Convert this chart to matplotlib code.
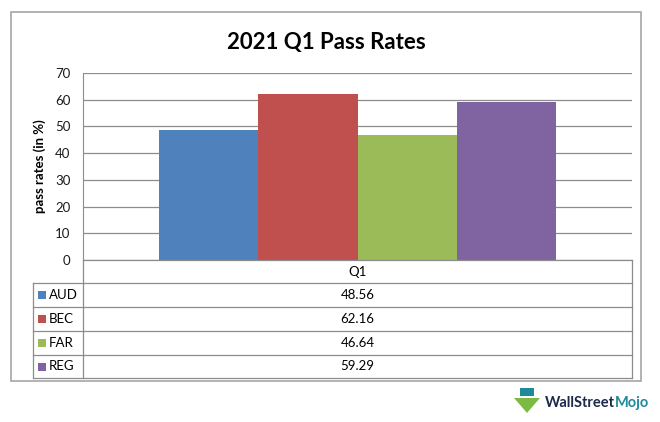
import matplotlib
matplotlib.use("Agg")
import matplotlib.pyplot as plt
from matplotlib.patches import Rectangle, Polygon
from matplotlib.lines import Line2D

# ---- data ----
title = "2021 Q1 Pass Rates"
category = "Q1"
series = ["AUD", "BEC", "FAR", "REG"]
values = [48.56, 62.16, 46.64, 59.29]
colors = ["#4F81BD", "#C0504D", "#9BBB59", "#8064A2"]
y_ticks = [0, 10, 20, 30, 40, 50, 60, 70]
y_label = "pass rates (in %)"

W, H = 660, 422
plt.rcParams['font.family'] = ['Lato', 'DejaVu Sans']
fig = plt.figure(figsize=(W / 100, H / 100), dpi=100)
fig.patch.set_facecolor("white")

def fx(px):
    return px / W

def fy(py):
    return 1 - py / H

grid_col = "#8C8C8C"

# outer chart border
fig.add_artist(Rectangle((fx(11), fy(381)), fx(641) - fx(11), fy(12) - fy(381),
                         transform=fig.transFigure, fill=False, edgecolor="#A6A6A6", lw=1.2))

# title
fig.text(fx(326), fy(43), title, ha="center", va="center", fontsize=16, fontweight="bold", color="#000000")

# plot area
L, R, T, B = 83, 632, 73, 260
ax = fig.add_axes([fx(L), fy(B), fx(R) - fx(L), fy(T) - fy(B)])
ax.set_xlim(-0.5, 0.5)
ax.set_ylim(0, 70)
bw = 0.181
n = len(series)
for i, (s, v, c) in enumerate(zip(series, values, colors)):
    xc = (i - (n - 1) / 2) * bw
    ax.bar(xc, v, width=bw, color=c, edgecolor="none", zorder=3)
ax.set_yticks(y_ticks)
ax.set_yticklabels([str(t) for t in y_ticks], fontsize=9.5, color="#1A1A1A")
ax.yaxis.grid(True, color=grid_col, lw=0.9, zorder=0)
ax.set_xticks([])
for sp in ["top", "right", "bottom"]:
    ax.spines[sp].set_visible(False)
ax.spines["left"].set_color(grid_col)
ax.tick_params(axis="y", length=0, pad=9)
ax.set_facecolor("white")
fig.text(fx(40), fy(166), y_label, rotation=90, ha="center", va="center", fontsize=9.5, fontweight="bold")

# data table
rows_y = [260, 283, 307, 331, 355, 378]
tl, tm, tr = 33, 83, 632
line_kw = dict(transform=fig.transFigure, color=grid_col, lw=0.9)
fig.add_artist(Line2D([fx(tm), fx(tr)], [fy(rows_y[0])] * 2, **line_kw))
for yy in rows_y[1:]:
    fig.add_artist(Line2D([fx(tl), fx(tr)], [fy(yy)] * 2, **line_kw))
fig.add_artist(Line2D([fx(tm), fx(tm)], [fy(rows_y[0]), fy(rows_y[-1])], **line_kw))
fig.add_artist(Line2D([fx(tr), fx(tr)], [fy(rows_y[0]), fy(rows_y[-1])], **line_kw))
fig.add_artist(Line2D([fx(tl), fx(tl)], [fy(rows_y[1]), fy(rows_y[-1])], **line_kw))

mid_x = (tm + tr) / 2
fig.text(fx(mid_x), fy((rows_y[0] + rows_y[1]) / 2), category, ha="center", va="center", fontsize=9.5)
for i, (s, v, c) in enumerate(zip(series, values, colors)):
    yc = (rows_y[i + 1] + rows_y[i + 2]) / 2
    fig.add_artist(Rectangle((fx(38), fy(yc + 4)), fx(8), fy(0) - fy(8),
                             transform=fig.transFigure, facecolor=c, edgecolor="none"))
    fig.text(fx(49), fy(yc), s, ha="left", va="center", fontsize=9.5)
    fig.text(fx(mid_x), fy(yc), f"{v:.2f}", ha="center", va="center", fontsize=9.5)

# watermark
fig.text(fx(545), fy(403), "WallStreet", ha="left", va="center", fontsize=10.5, fontweight="bold", color="#1B2A4A")
fig.text(fx(615), fy(403), "Mojo", ha="left", va="center", fontsize=10.5, fontweight="bold", color="#1E8A9A")
fig.add_artist(Polygon([(fx(514), fy(398)), (fx(540), fy(398)), (fx(533), fy(406)),
                        (fx(527), fy(413)), (fx(521), fy(406))],
                       closed=True, transform=fig.transFigure, facecolor="#7DBA43", edgecolor="none"))
fig.add_artist(Rectangle((fx(520), fy(396)), fx(14), fy(0) - fy(8), transform=fig.transFigure,
                         facecolor="#1E8A9A", edgecolor="none"))

fig.savefig("out.png", dpi=100, facecolor="white")
